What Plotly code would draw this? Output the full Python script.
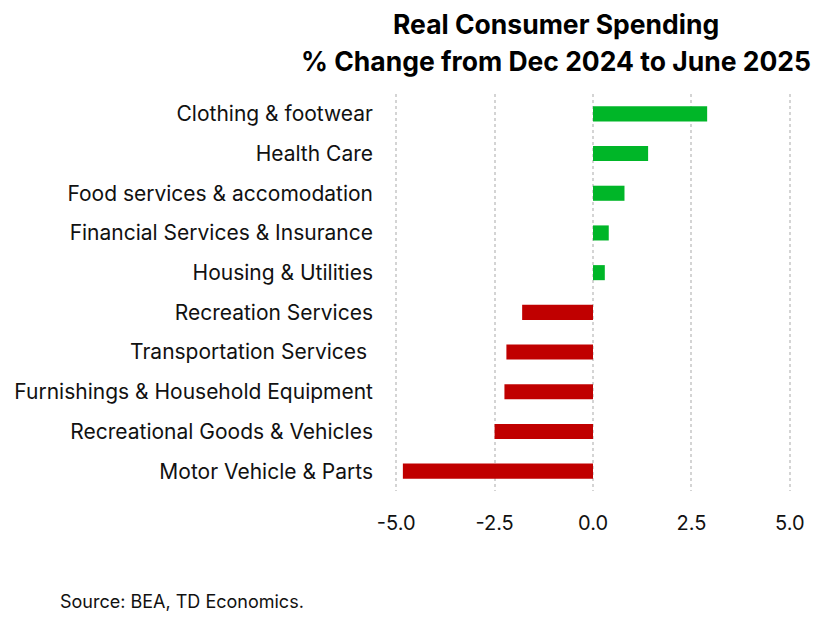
import plotly.graph_objects as go

# categories listed top to bottom as in the chart
categories = [
    "Clothing & footwear",
    "Health Care",
    "Food services & accomodation",
    "Financial Services & Insurance",
    "Housing & Utilities",
    "Recreation Services",
    "Transportation Services ",
    "Furnishings & Household Equipment",
    "Recreational Goods & Vehicles",
    "Motor Vehicle & Parts",
]
pct_change = [2.9, 1.4, 0.8, 0.4, 0.3, -1.8, -2.2, -2.25, -2.5, -4.83]
x_ticks = [-5.0, -2.5, 0.0, 2.5, 5.0]
x_tick_labels = ["-5.0", "-2.5", "0.0", "2.5", "5.0"]

GREEN = "#00B628"
RED = "#C00000"
FONT = "Inter"

# the page puts an 8px body margin around the figure, so draw 8px smaller
OFF = 8
W, H = 827 - OFF, 617 - OFF
PL, PR, PT, PB = 395 - OFF, 36, 94 - OFF, 126
PW, PH = W - PL - PR, H - PT - PB

colors = [GREEN if v >= 0 else RED for v in pct_change]

fig = go.Figure(go.Bar(
    x=pct_change,
    y=categories,
    orientation="h",
    marker=dict(color=colors, line=dict(width=0)),
    width=0.38,
))

fig.update_layout(
    width=W,
    height=H,
    margin=dict(l=PL, r=PR, t=PT, b=PB),
    plot_bgcolor="white",
    paper_bgcolor="white",
    showlegend=False,
    font=dict(family=FONT, size=21, color="#111111"),
)

# range padded a touch so the -5 and 5 gridlines still get drawn
fig.update_xaxes(
    range=[-5.03, 5.03],
    tickvals=x_ticks,
    ticktext=x_tick_labels,
    showgrid=True,
    gridcolor="#d4d4d4",
    gridwidth=2,
    griddash="dot",
    zeroline=False,
    showline=False,
    ticks="",
    ticklabelstandoff=18,
    tickfont=dict(size=20),
    automargin=False,
)
fig.update_yaxes(
    categoryorder="array",
    categoryarray=categories[::-1],
    range=[-0.5, len(categories) - 0.5],
    showgrid=False,
    zeroline=False,
    showline=False,
    ticks="",
    ticklabelstandoff=21,
    tickfont=dict(size=21),
    automargin=False,
)


def px_x(x):
    return (x - OFF - PL) / PW


def px_y(y):
    return 1 - (y - OFF - PT) / PH


title_font = dict(family=FONT, size=26.5, color="#000000", weight="bold")
fig.add_annotation(text="Real Consumer Spending", xref="paper", yref="paper",
                   x=px_x(556), y=px_y(24), xanchor="center",
                   yanchor="middle", showarrow=False, font=title_font)
fig.add_annotation(text="% Change from Dec 2024 to June 2025", xref="paper", yref="paper",
                   x=px_x(556), y=px_y(61), xanchor="center",
                   yanchor="middle", showarrow=False, font=title_font)
fig.add_annotation(text="Source: BEA, TD Economics.", xref="paper", yref="paper",
                   x=px_x(58), y=px_y(601), xanchor="left",
                   yanchor="middle", showarrow=False,
                   font=dict(family=FONT, size=18, color="#111111"))

fig.write_html("out.html")
